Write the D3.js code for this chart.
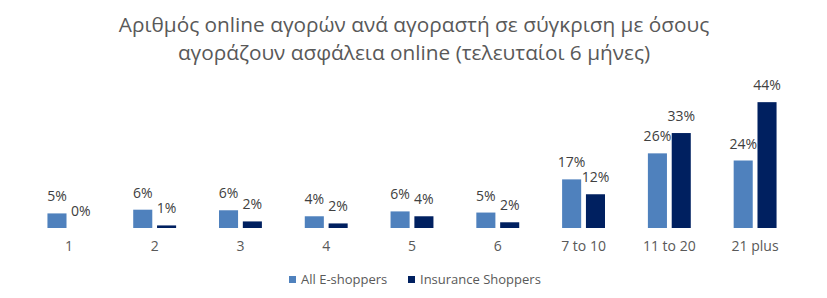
<!DOCTYPE html>
<html>
<head>
<meta charset="utf-8">
<script src="https://cdn.jsdelivr.net/npm/d3@7"></script>
<style>
  html, body { margin: 0; padding: 0; background: #ffffff; }
  svg { display: block; font-family: "Open Sans", "Noto Sans", sans-serif; }
</style>
</head>
<body>
<svg id="chart" width="827" height="298"></svg>
<script>
const titleLines = ["Αριθμός online αγορών ανά αγοραστή σε σύγκριση με όσους", "αγοράζουν ασφάλεια online (τελευταίοι 6 μήνες)"];
const categories = ["1", "2", "3", "4", "5", "6", "7 to 10", "11 to 20", "21 plus"];
const seriesNames = ["All E-shoppers", "Insurance Shoppers"];
const allEShoppers = [5.1, 6.4, 6.2, 4.1, 5.8, 5.4, 17.0, 26.1, 23.6];
const insuranceShoppers = [0.0, 0.9, 2.3, 1.6, 4.1, 2.0, 11.8, 33.2, 44.0];
const colors = ["#4F81BD", "#002060"];

const svg = d3.select("#chart");

const data = categories.map((c, i) => ({ cat: c, values: [allEShoppers[i], insuranceShoppers[i]] }));

// Title
svg.append("g").selectAll("text").data(titleLines).join("text")
  .attr("x", 414)
  .attr("y", (d, i) => 32 + i * 27.5)
  .attr("text-anchor", "middle")
  .attr("font-size", 20.8)
  .attr("fill", "#595959")
  .text(d => d);

const x0 = d3.scaleBand().domain(categories).range([26, 798]).paddingInner(0.5).paddingOuter(0.25);
const x1 = d3.scaleBand().domain([0, 1]).range([0, x0.bandwidth()]).paddingInner(0.2);
const y = d3.scaleLinear().domain([0, 50]).range([228, 85]);

const groups = svg.append("g").selectAll("g").data(data).join("g")
  .attr("transform", d => `translate(${x0(d.cat)},0)`);

groups.selectAll("rect").data(d => d.values.map((v, k) => ({ v, k }))).join("rect")
  .attr("x", d => x1(d.k))
  .attr("width", x1.bandwidth())
  .attr("y", d => y(d.v))
  .attr("height", d => y(0) - y(d.v))
  .attr("fill", d => colors[d.k]);

groups.selectAll("text").data(d => d.values.map((v, k) => ({ v, k }))).join("text")
  .attr("x", d => x1(d.k) + x1.bandwidth() / 2)
  .attr("y", d => y(d.v) - 12)
  .attr("text-anchor", "middle")
  .attr("font-size", 14)
  .attr("fill", "#404040")
  .text(d => Math.round(d.v) + "%");

// X axis (labels only)
const xAxis = svg.append("g")
  .attr("transform", `translate(0,${y(0)})`)
  .call(d3.axisBottom(x0).tickSize(0).tickPadding(13));
xAxis.select(".domain").remove();
xAxis.selectAll("text")
  .attr("font-family", "Open Sans, Noto Sans, sans-serif")
  .attr("font-size", 14)
  .attr("fill", "#595959");

// Legend
const legendItems = [{ name: seriesNames[0], x: 289 }, { name: seriesNames[1], x: 408 }];
const legend = svg.append("g").selectAll("g").data(legendItems).join("g")
  .attr("transform", d => `translate(${d.x},276)`);
legend.append("rect").attr("width", 7).attr("height", 7)
  .attr("fill", (d, i) => colors[i]);
legend.append("text").attr("x", 12).attr("y", 7.5)
  .attr("font-size", 13).attr("fill", "#595959")
  .text(d => d.name);
</script>
</body>
</html>
